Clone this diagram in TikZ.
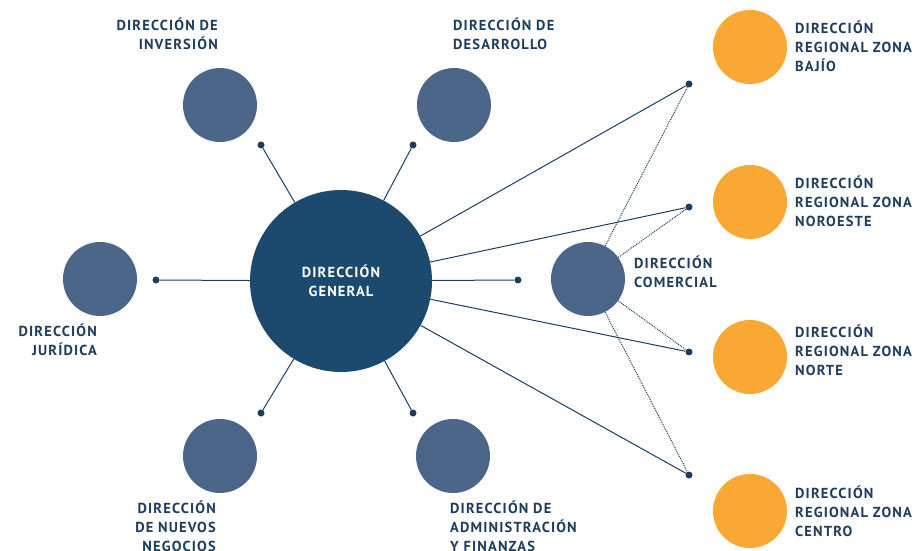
\documentclass[tikz,border=0pt]{standalone}
\usepackage{fontspec}
\setmainfont{PT Sans}[LetterSpace=8]
\usepackage{xcolor}
\usetikzlibrary{positioning}
\definecolor{navy}{HTML}{1B4A6E}
\definecolor{slate}{HTML}{4B6688}
\definecolor{amber}{HTML}{F8A833}
\definecolor{ink}{HTML}{1D3C5E}
\definecolor{wire}{HTML}{1B3D61}

\begin{document}
\begin{tikzpicture}[x=1pt, y=-1pt,
    big/.style={circle, fill=navy, minimum size=182pt, inner sep=0pt, text=white, align=center},
    unit/.style={circle, fill=slate, minimum size=74pt, inner sep=0pt},
    zone/.style={circle, fill=amber, minimum size=74pt, inner sep=0pt},
    dot/.style={circle, fill=wire, minimum size=7pt, inner sep=0pt},
    lbl/.style={text=ink, inner sep=0pt},
    link/.style={draw=wire, line width=1pt},
    dlink/.style={draw=wire, densely dotted, line width=1pt},
    every node/.style={font=\bfseries\fontsize{14.5}{19}\selectfont}]
    \useasboundingbox (0,0) rectangle (924,551);

    % circles
    \node [big] (gen) at (341,281) {DIRECCIÓN\\GENERAL};
    \node [unit] (inv) at (220,105) {};
    \node [unit] (des) at (454,105) {};
    \node [unit] (jur) at (100,279) {};
    \node [unit] (com) at (588,279) {};
    \node [unit] (neg) at (220,456) {};
    \node [unit] (adm) at (453,456) {};
    \node [zone] (baj) at (750,47) {};
    \node [zone] (nor) at (750,202) {};
    \node [zone] (nte) at (750,357) {};
    \node [zone] (cen) at (750,511) {};

    % dots
    \node [dot] (dInv) at (261,145) {};
    \node [dot] (dDes) at (413,145) {};
    \node [dot] (dJur) at (156,280) {};
    \node [dot] (dCom) at (518,280) {};
    \node [dot] (dNeg) at (261,413) {};
    \node [dot] (dAdm) at (413,413) {};
    \node [dot] (dBaj) at (689,84) {};
    \node [dot] (dNor) at (689,207) {};
    \node [dot] (dNte) at (689,352) {};
    \node [dot] (dCen) at (689,475) {};

    % labels (base = last line)
    \node [lbl, align=right, anchor=base east] (tInv) at (218,50) {DIRECCIÓN DE\\INVERSIÓN};
    \node [lbl, align=left, anchor=base west] (tDes) at (453,50) {DIRECCIÓN DE\\DESARROLLO};
    \node [lbl, align=right, anchor=base east] (tJur) at (97,355) {DIRECCIÓN\\JURÍDICA};
    \node [lbl, align=left, anchor=base west] (tCom) at (634,287) {DIRECCIÓN\\COMERCIAL};
    \node [lbl, align=right, anchor=base east] (tNeg) at (216,551) {DIRECCIÓN\\DE NUEVOS\\NEGOCIOS};
    \node [lbl, align=left, anchor=base west] (tAdm) at (450,551) {DIRECCIÓN DE\\ADMINISTRACIÓN\\Y FINANZAS};
    \node [lbl, align=left, anchor=base west] (tBaj) at (795,72) {DIRECCIÓN\\REGIONAL ZONA\\BAJÍO};
    \node [lbl, align=left, anchor=base west] (tNor) at (795,226) {DIRECCIÓN\\REGIONAL ZONA\\NOROESTE};
    \node [lbl, align=left, anchor=base west] (tNte) at (795,375) {DIRECCIÓN\\REGIONAL ZONA\\NORTE};
    \node [lbl, align=left, anchor=base west] (tCen) at (795,536) {DIRECCIÓN\\REGIONAL ZONA\\CENTRO};

    % links
    \foreach \d in {dInv, dDes, dJur, dCom, dNeg, dAdm, dBaj, dNor, dNte, dCen}
        \draw [link] (gen) -- (\d);
    \foreach \d in {dBaj, dNor, dNte, dCen}
        \draw [dlink] (com) -- (\d);
\end{tikzpicture}
\end{document}
